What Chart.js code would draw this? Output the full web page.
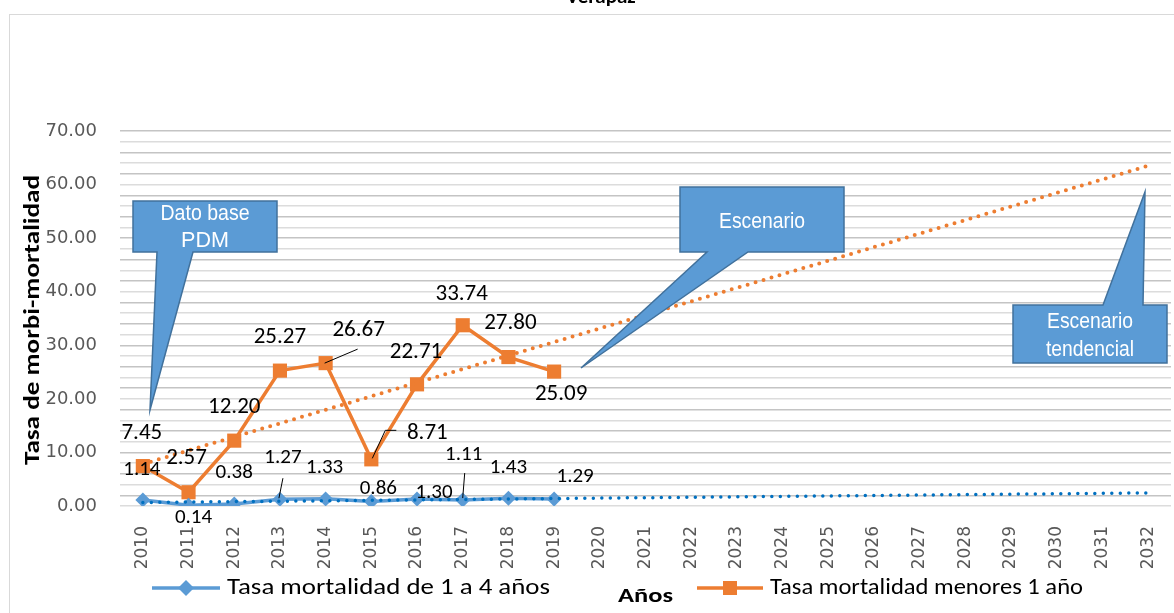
<!DOCTYPE html>
<html>
<head>
<meta charset="utf-8">
<script src="https://cdn.jsdelivr.net/npm/chart.js@4.4.0/dist/chart.umd.min.js"></script>
<style>
html, body { margin: 0; padding: 0; background: #fff; }
#wrap { position: relative; width: 1174px; height: 613px; }
</style>
</head>
<body>
<div id="wrap"><canvas id="line-chart" width="1174" height="613"></canvas></div>
<script>
const years = ['2010', '2011', '2012', '2013', '2014', '2015', '2016', '2017', '2018', '2019', '2020', '2021',
    '2022', '2023', '2024', '2025', '2026', '2027', '2028', '2029', '2030', '2031', '2032'];
const tasa1a4 = [1.14, 0.14, 0.38, 1.27, 1.33, 0.86, 1.30, 1.11, 1.43, 1.29];
const tasaMenores1 = [7.45, 2.57, 12.20, 25.27, 26.67, 8.71, 22.71, 33.74, 27.80, 25.09];
// tendencia lineal, en 2010 y 2032
const tendenciaYears = ['2010', '2032'];
const tendencia1a4 = [0.65, 2.45];
const tendenciaMenores1 = [7.84, 63.5];
const yTicks = [0, 10, 20, 30, 40, 50, 60, 70];

const BLUE = '#5B9BD5';
const ORANGE = '#ED7D31';
const LABEL_FONT = "Carlito, Calibri, Lato, sans-serif";

// desplazamiento de cada etiqueta respecto a su punto (px)
const offMenores1 = [[-1, -33], [-2, -34], [0, -33], [0, -33], [33, -33], [56, -26], [-1, -32], [-1, -31], [2, -34], [7, 23]];
const off1a4 = [[-1, -30], [5, 12], [0, -31], [3, -41], [-1, -31], [7, -13], [17, -6], [1, -45], [0, -31], [21, -22]];
// lineas guia [serie, indice, puntos relativos]
const leaders = [
    [1, 4, [[-1, 0], [32, -14]]],
    [1, 5, [[1, -1], [14, -29], [25, -29]]],
    [0, 3, [[-1, -1], [3, -21]]],
    [0, 7, [[0, -2], [2, -27]]]
];

function fitText(ctx, text, x, y, w) {
    const m = ctx.measureText(text).width;
    ctx.save();
    ctx.translate(x, y);
    ctx.scale(w / m, 1);
    ctx.fillText(text, 0, 0);
    ctx.restore();
}

function callout(ctx, pts, lines) {
    ctx.save();
    ctx.beginPath();
    ctx.moveTo(pts[0][0], pts[0][1]);
    for (let i = 1; i < pts.length; i++) ctx.lineTo(pts[i][0], pts[i][1]);
    ctx.closePath();
    ctx.fillStyle = BLUE;
    ctx.fill();
    ctx.strokeStyle = '#41719C';
    ctx.lineWidth = 1.5;
    ctx.stroke();
    ctx.fillStyle = '#fff';
    ctx.font = "22px 'Liberation Sans Narrow', 'Liberation Sans', Arial, sans-serif";
    ctx.textAlign = 'left';
    ctx.textBaseline = 'middle';
    lines.forEach(l => fitText(ctx, l[0], l[1] - l[3] / 2, l[2], l[3]));
    ctx.restore();
}

const extras = {
    id: 'extras',
    beforeDraw(chart) {
        const ctx = chart.ctx;
        ctx.save();
        ctx.strokeStyle = '#d9d9d9';
        ctx.lineWidth = 1;
        ctx.strokeRect(9.5, 14.5, 1300, 700);
        ctx.restore();
    },
    afterDatasetsDraw(chart) {
        const ctx = chart.ctx;
        const metas = [chart.getDatasetMeta(2), chart.getDatasetMeta(3)];
        ctx.save();
        ctx.fillStyle = '#000';
        ctx.textAlign = 'center';
        ctx.textBaseline = 'middle';
        ctx.font = '21px ' + LABEL_FONT;
        tasa1a4.forEach((v, i) => {
            const p = metas[0].data[i];
            ctx.fillText(v.toFixed(2), p.x + off1a4[i][0], p.y + off1a4[i][1]);
        });
        ctx.font = '23px ' + LABEL_FONT;
        tasaMenores1.forEach((v, i) => {
            const p = metas[1].data[i];
            ctx.fillText(v.toFixed(2), p.x + offMenores1[i][0], p.y + offMenores1[i][1]);
        });
        ctx.strokeStyle = '#000';
        ctx.lineWidth = 1;
        leaders.forEach(([s, i, pts]) => {
            const p = metas[s].data[i];
            ctx.beginPath();
            pts.forEach((d, k) => k ? ctx.lineTo(p.x + d[0], p.y + d[1]) : ctx.moveTo(p.x + d[0], p.y + d[1]));
            ctx.stroke();
        });
        ctx.restore();
    },
    afterDraw(chart) {
        const ctx = chart.ctx;
        ctx.save();
        // titulo (cortado arriba)
        ctx.fillStyle = '#000';
        ctx.font = 'bold 21px ' + LABEL_FONT;
        ctx.textAlign = 'center';
        ctx.textBaseline = 'alphabetic';
        ctx.fillText('Verapaz', 601, 3);

        // titulo eje y
        ctx.save();
        ctx.translate(33, 320);
        ctx.rotate(-Math.PI / 2);
        ctx.font = 'bold 22px ' + LABEL_FONT;
        ctx.textBaseline = 'middle';
        ctx.textAlign = 'left';
        fitText(ctx, 'Tasa de morbi-mortalidad', -145, 0, 290);
        ctx.restore();

        // titulo eje x
        ctx.font = 'bold 21px ' + LABEL_FONT;
        ctx.textAlign = 'left';
        ctx.textBaseline = 'middle';
        fitText(ctx, 'Años', 618, 597, 55);

        // leyenda
        ctx.lineWidth = 3.5;
        ctx.strokeStyle = BLUE;
        ctx.beginPath(); ctx.moveTo(152, 588); ctx.lineTo(220, 588); ctx.stroke();
        ctx.fillStyle = BLUE;
        ctx.beginPath();
        ctx.moveTo(178, 588); ctx.lineTo(186, 580); ctx.lineTo(194, 588); ctx.lineTo(186, 596);
        ctx.closePath(); ctx.fill();
        ctx.strokeStyle = ORANGE;
        ctx.beginPath(); ctx.moveTo(697, 588); ctx.lineTo(763, 588); ctx.stroke();
        ctx.fillStyle = ORANGE;
        ctx.fillRect(723, 581, 14, 14);
        ctx.fillStyle = '#000';
        ctx.font = '22px ' + LABEL_FONT;
        fitText(ctx, 'Tasa mortalidad de 1 a 4 años', 227, 588, 323);
        fitText(ctx, 'Tasa mortalidad menores 1 año', 770, 588, 313);
        ctx.restore();

        // globos de texto
        callout(ctx, [[133, 201], [277, 201], [277, 252], [193, 252], [150, 410], [157, 252], [133, 252]],
            [['Dato base', 205, 214, 89], ['PDM', 205, 241, 48]]);
        callout(ctx, [[680, 187], [844, 187], [844, 252], [748, 252], [581, 368], [707, 252], [680, 252]],
            [['Escenario', 762, 222, 86]]);
        callout(ctx, [[1013, 305], [1103, 305], [1145, 192], [1143, 305], [1167, 305], [1167, 363], [1013, 363]],
            [['Escenario', 1090, 322, 86], ['tendencial', 1090, 350, 88]]);
    }
};

let lineChart = new Chart('line-chart', {
    type: 'line',
    data: {
        labels: years,
        datasets: [{
            label: 'Lineal (Tasa mortalidad de 1 a 4 años)',
            data: tendenciaYears.map((y, i) => ({x: y, y: tendencia1a4[i]})),
            borderColor: '#0070C0',
            borderWidth: 3.5,
            borderDash: [0, 8.5],
            borderCapStyle: 'round',
            pointRadius: 0,
            order: 0
        }, {
            label: 'Lineal (Tasa mortalidad menores 1 año)',
            data: tendenciaYears.map((y, i) => ({x: y, y: tendenciaMenores1[i]})),
            borderColor: ORANGE,
            borderWidth: 4,
            borderDash: [0, 8.3],
            borderCapStyle: 'round',
            pointRadius: 0,
            order: 0
        }, {
            label: 'Tasa mortalidad de 1 a 4 años',
            data: tasa1a4,
            borderColor: BLUE,
            backgroundColor: BLUE,
            borderWidth: 3.5,
            pointStyle: 'rectRot',
            pointRadius: 7.5,
            pointBorderWidth: 0,
            order: 1
        }, {
            label: 'Tasa mortalidad menores 1 año',
            data: tasaMenores1,
            borderColor: ORANGE,
            backgroundColor: ORANGE,
            borderWidth: 3.5,
            pointStyle: 'rect',
            pointRadius: 10,
            pointBorderWidth: 0,
            order: 1
        }]
    },
    options: {
        responsive: false,
        animation: false,
        layout: {autoPadding: false, padding: {left: 0, right: 3, top: 131, bottom: 0}},
        plugins: {legend: {display: false}, tooltip: {enabled: false}},
        scales: {
            x: {
                offset: true,
                grid: {display: false},
                border: {display: false},
                ticks: {
                    autoSkip: false,
                    minRotation: 90,
                    maxRotation: 90,
                    padding: 12,
                    color: '#595959',
                    font: {family: 'DejaVu Sans', size: 17}
                },
                afterFit(scale) {
                    scale.height = 107;
                    scale.paddingLeft = 0;
                    scale.paddingRight = 0;
                }
            },
            y: {
                min: 0,
                max: 70,
                ticks: {
                    stepSize: 2,
                    autoSkip: false,
                    padding: 23,
                    color: '#595959',
                    font: {family: 'DejaVu Sans', size: 18},
                    callback: v => yTicks.includes(v) ? v.toFixed(2) : ''
                },
                grid: {
                    drawTicks: false,
                    lineWidth: 1.5,
                    color: c => c.index % 2 ? '#c4c4c4' : '#dcdcdc'
                },
                border: {display: false},
                afterFit(scale) {
                    scale.width = 120;
                    scale.paddingTop = 0;
                    scale.paddingBottom = 0;
                }
            }
        }
    },
    plugins: [extras]
});
</script>
</body>
</html>
